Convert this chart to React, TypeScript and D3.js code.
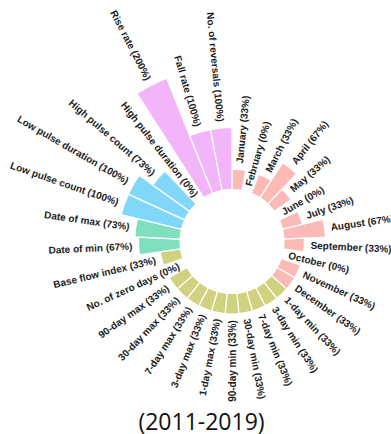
import React from "react";
import * as d3 from "d3";

// IHA indicators, clockwise from the top
const indicators = [
  "January", "February", "March", "April", "May", "June",
  "July", "August", "September", "October", "November", "December",
  "1-day min", "3-day min", "7-day min", "30-day min", "90-day min",
  "1-day max", "3-day max", "7-day max", "30-day max", "90-day max",
  "No. of zero days", "Base flow index",
  "Date of min", "Date of max",
  "Low pulse count", "Low pulse duration", "High pulse count", "High pulse duration",
  "Rise rate", "Fall rate", "No. of reversals",
];

// Degree of hydrologic alteration (%)
const alteration = [
  33, 0, 33, 67, 33, 0, 33, 67, 33, 0, 33, 33,
  33, 33, 33, 33, 33,
  33, 33, 33, 33, 33,
  0, 33,
  67, 73,
  100, 100, 73, 0,
  200, 100, 100,
];

// Indicator group of each bar
const groups = [
  ...Array(12).fill("g1"),
  ...Array(12).fill("g2"),
  ...Array(2).fill("g3"),
  ...Array(4).fill("g4"),
  ...Array(3).fill("g5"),
];
const groupNames = ["g1", "g2", "g3", "g4", "g5"];
const groupColors = ["#FBBAB6", "#D1D27F", "#7FDFBE", "#80D7FA", "#F3B5F9"];

const title = "(2011-2019)";

const W = 391;
const H = 434;
const cx = 232;
const cy = 241.5;

export default function App() {
  const n = indicators.length;
  const angle = d3
    .scaleBand<number>()
    .domain(d3.range(n))
    .range([0, 2 * Math.PI])
    .padding(0);
  const radius = d3.scaleLinear().domain([0, 200]).range([52, 176]);
  const color = d3.scaleOrdinal<string, string>().domain(groupNames).range(groupColors);

  const arc = d3.arc<any>();

  return (
    <svg
      width={W}
      height={H}
      style={{ position: "absolute", left: 0, top: 0, background: "#fff" }}
    >
      <g transform={`translate(${cx},${cy})`}>
        {alteration.map((v, i) => {
          if (v <= 0) return null;
          const a0 = angle(i)!;
          const a1 = a0 + angle.bandwidth();
          const d = arc({
            innerRadius: radius(0),
            outerRadius: radius(v),
            startAngle: a0,
            endAngle: a1,
          }) as string;
          return (
            <path key={i} d={d} fill={color(groups[i])} stroke="#fff" strokeWidth={1.2} />
          );
        })}
        {indicators.map((name, i) => {
          const mid = angle(i)! + angle.bandwidth() / 2;
          const deg = (mid * 180) / Math.PI;
          const r = radius(alteration[i] + 10);
          const x = r * Math.sin(mid);
          const y = -r * Math.cos(mid);
          const right = deg < 180;
          const rot = right ? deg - 90 : deg + 90;
          return (
            <text
              key={name}
              transform={`translate(${x},${y}) rotate(${rot})`}
              textAnchor={right ? "start" : "end"}
              dominantBaseline="central"
              fontFamily="'Liberation Sans', Arial, sans-serif"
              fontWeight="bold"
              fontSize={10}
              fill="#1c1c1c"
            >
              {`${name} (${alteration[i]}%)`}
            </text>
          );
        })}
      </g>
      <text
        x={201.5}
        y={429.5}
        textAnchor="middle"
        fontFamily="'Open Sans', sans-serif"
        fontSize={23}
        fill="#111"
      >
        {title}
      </text>
    </svg>
  );
}
